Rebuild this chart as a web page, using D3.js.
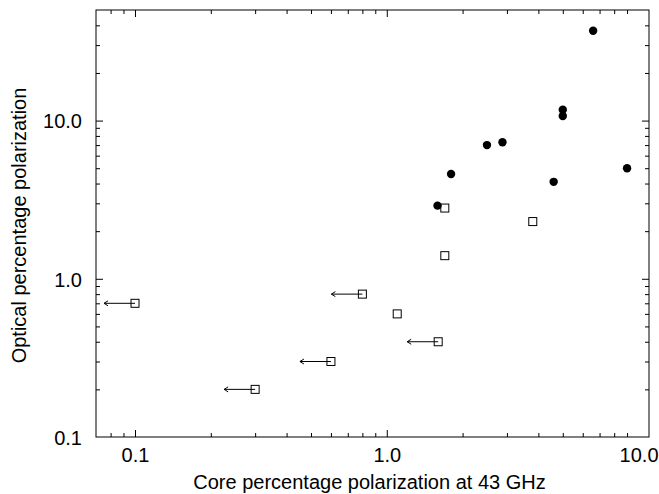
<!DOCTYPE html>
<html><head><meta charset="utf-8">
<script src="https://cdn.jsdelivr.net/npm/d3@7"></script>
<style>body{margin:0;background:#fff}svg{display:block}text{font-family:"Liberation Sans",Arial,sans-serif}</style>
</head><body>
<svg id="c" width="659" height="494"></svg>
<script>
// Detections (filled circles)
const detX = [6.6, 5.0, 5.0, 2.5, 2.88, 1.8, 1.59, 4.6, 9.0];
const detY = [37, 11.7, 10.7, 7.0, 7.3, 4.6, 2.9, 4.1, 5.0];
// Open squares (some are upper limits in core polarization)
const sqX = [1.7, 3.8, 1.7, 0.8, 1.1, 1.6, 0.1, 0.3, 0.6];
const sqY = [2.8, 2.3, 1.4, 0.8, 0.6, 0.4, 0.7, 0.2, 0.3];
const sqUpper = [false, false, false, true, false, true, true, true, true];
// Ticks
const xMajor = [0.1, 1];
const xMinor = [0.08, 0.09, 0.2, 0.3, 0.4, 0.5, 0.6, 0.7, 0.8, 0.9, 2, 3, 4, 5, 6, 7, 8, 9];
const xLabels = [0.1, 1, 10];
const yMajor = [1, 10];
const yMinor = [0.2, 0.3, 0.4, 0.5, 0.6, 0.7, 0.8, 0.9, 2, 3, 4, 5, 6, 7, 8, 9, 20, 30, 40];
const yLabels = [0.1, 1, 10];
const xTitle = "Core percentage polarization at 43 GHz";
const yTitle = "Optical percentage polarization";

const L = 96, R = 649, T = 10, B = 437;
const svg = d3.select("#c");
const x = d3.scaleLog().domain([0.07, 11]).range([L, R]);
const y = d3.scaleLog().domain([0.1, 50]).range([B, T]);
const fmt = d3.format(".1f");

function lineAxis(gen, vals, size, tr) {
  const g = svg.append("g").attr("transform", tr)
    .call(gen.tickValues(vals).tickSize(size).tickFormat(""));
  g.select(".domain").remove();
  g.selectAll("line").attr("stroke", "#000");
}
lineAxis(d3.axisBottom(x), xMajor, -7, `translate(0,${B})`);
lineAxis(d3.axisBottom(x), xMinor, -4, `translate(0,${B})`);
lineAxis(d3.axisTop(x), xMajor, -7, `translate(0,${T})`);
lineAxis(d3.axisTop(x), xMinor, -4, `translate(0,${T})`);
lineAxis(d3.axisLeft(y), yMajor, -7, `translate(${L},0)`);
lineAxis(d3.axisLeft(y), yMinor, -4, `translate(${L},0)`);
lineAxis(d3.axisRight(y), yMajor, -7, `translate(${R},0)`);
lineAxis(d3.axisRight(y), yMinor, -4, `translate(${R},0)`);

const gxl = svg.append("g").attr("transform", `translate(0,${B})`)
  .call(d3.axisBottom(x).tickValues(xLabels).tickSize(0).tickPadding(11).tickFormat(fmt));
gxl.select(".domain").remove();
gxl.selectAll("text").attr("font-size", 20).attr("fill", "#000").attr("font-family", '"Liberation Sans",Arial,sans-serif');

const gyl = svg.append("g").attr("transform", `translate(${L},0)`)
  .call(d3.axisLeft(y).tickValues(yLabels).tickSize(0).tickPadding(14).tickFormat(fmt));
gyl.select(".domain").remove();
gyl.selectAll("text").attr("font-size", 20).attr("fill", "#000").attr("dy", "0.37em").attr("font-family", '"Liberation Sans",Arial,sans-serif');

svg.append("rect").attr("x", L).attr("y", T).attr("width", R - L).attr("height", B - T)
  .attr("fill", "none").attr("stroke", "#000").attr("stroke-width", 1);

// arrows for upper limits
const lim = sqX.map((v, i) => ({x: v, y: sqY[i], up: sqUpper[i]}));
const arrows = svg.append("g").attr("stroke", "#000").attr("fill", "none").attr("stroke-width", 1);
lim.filter(d => d.up).forEach(d => {
  const cx = x(d.x), cy = y(d.y), tip = cx - 31;
  arrows.append("line").attr("x1", cx).attr("y1", cy).attr("x2", tip).attr("y2", cy);
  arrows.append("path").attr("d", `M${tip + 4},${cy - 2.5}L${tip},${cy}L${tip + 4},${cy + 2.5}`);
});

svg.append("g").selectAll("rect").data(lim).join("rect")
  .attr("x", d => x(d.x) - 4).attr("y", d => y(d.y) - 4)
  .attr("width", 8).attr("height", 8)
  .attr("fill", "none").attr("stroke", "#000").attr("stroke-width", 1);

svg.append("g").selectAll("circle").data(detX.map((v, i) => [v, detY[i]])).join("circle")
  .attr("cx", d => x(d[0])).attr("cy", d => y(d[1])).attr("r", 4.2).attr("fill", "#000");

svg.append("text").attr("x", (L + R) / 2 - 3).attr("y", 489).attr("text-anchor", "middle")
  .attr("font-size", 20).attr("fill", "#000").text(xTitle);
svg.append("text").attr("transform", `translate(25.5,${(T + B) / 2 + 2}) rotate(-90)`)
  .attr("text-anchor", "middle").attr("font-size", 20).attr("fill", "#000").text(yTitle);
</script>
</body></html>
